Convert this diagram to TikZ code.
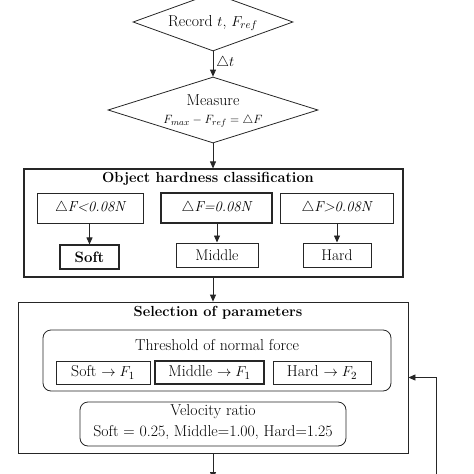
\documentclass[tikz,border=0pt]{standalone}
\usetikzlibrary{arrows.meta,shapes.geometric}
\begin{document}
\begin{tikzpicture}[x=1pt,y=-1pt,
  ln/.style={draw=black!85, line width=0.8pt},
  arr/.style={ln, -{Triangle[length=7pt,width=6pt]}},
  box/.style={ln, rectangle, inner sep=0pt},
  thickbox/.style={box, line width=1.3pt},
  rbox/.style={box, rounded corners=8pt},
  dia/.style={ln, diamond, inner sep=0pt},
  txt/.style={inner sep=0pt, font=\fontsize{15.8}{18}\selectfont},
  ttl/.style={inner sep=0pt, font=\fontsize{14.6}{17}\selectfont\bfseries},
  cnd/.style={inner sep=0pt, font=\fontsize{14.5}{17}\selectfont\itshape}
]
\useasboundingbox (0,0) rectangle (474,474);
% diamonds
\node[dia, minimum width=160pt, minimum height=58pt] (rec) at (213,22) {};
\node[txt] (rect) at (213,23) {Record $t$, $F_{ref}$};
\node[dia, minimum width=210pt, minimum height=66pt] (ms) at (213,110) {};
\node[txt] (mst1) at (213,100) {Measure};
\node[txt, font=\fontsize{13}{16}\selectfont] (mst2) at (213,121) {$F_{max}-F_{ref}=\triangle F$};
\draw[arr] (rec.south) -- node[txt, right=3pt, pos=0.45] (dt) {$\triangle t$} (ms.north);
% hardness classification
\node[box, line width=1.2pt, minimum width=379pt, minimum height=108pt] (hc) at (213.5,223) {};
\node[ttl] (hct) at (208,179) {Object hardness classification};
\node[box, minimum width=106pt, minimum height=30pt] (c1) at (90,208) {};
\node[thickbox, minimum width=111pt, minimum height=30pt] (c2) at (216.5,208) {};
\node[box, minimum width=113pt, minimum height=30pt] (c3) at (336.5,208) {};
\node[cnd] (c1t) at (c1) {$\triangle$F<0.08N};
\node[cnd] (c2t) at (c2) {$\triangle$F=0.08N};
\node[cnd] (c3t) at (c3) {$\triangle$F>0.08N};
\node[box, line width=1.1pt, minimum width=59pt, minimum height=24pt, font=\fontsize{15}{18}\selectfont\bfseries] (r1) at (89.5,257) {Soft};
\node[box, line width=1pt, minimum width=82pt, minimum height=24pt, font=\fontsize{15.5}{18}\selectfont] (r2) at (217,255) {Middle};
\node[box, line width=1pt, minimum width=68pt, minimum height=24pt, font=\fontsize{15.5}{18}\selectfont] (r3) at (337,255) {Hard};
\draw[arr] (c1.south -| r1.north) -- (r1.north);
\draw[arr] (c2.south -| r2.north) -- (r2.north);
\draw[arr] (c3.south -| r3.north) -- (r3.north);
\draw[arr] (ms.south) -- (ms.south |- hc.north);
% selection of parameters
\node[box, minimum width=390pt, minimum height=151pt] (sp) at (213,377.5) {};
\node[ttl] (spt) at (218,313) {Selection of parameters};
\draw[arr] (213,277) -- (sp.north);
\node[rbox, minimum width=348pt, minimum height=61pt] (th) at (217,360.5) {};
\node[txt] (tht) at (217,345) {Threshold of normal force};
\node[box, minimum width=94pt, minimum height=23pt] (t1) at (103,372.5) {};
\node[thickbox, minimum width=109pt, minimum height=23pt] (t2) at (209.5,372.5) {};
\node[box, minimum width=98pt, minimum height=23pt] (t3) at (322,372.5) {};
\node[txt] (t1t) at (t1) {Soft $\rightarrow F_1$};
\node[txt] (t2t) at (t2) {Middle $\rightarrow F_1$};
\node[txt] (t3t) at (t3) {Hard $\rightarrow F_2$};
\node[rbox, minimum width=266pt, minimum height=44pt] (vr) at (213,424) {};
\node[txt] (vrt1) at (213,412) {Velocity ratio};
\node[txt] (vrt2) at (213,432) {Soft = 0.25, Middle=1.00, Hard=1.25};
% outputs
\coordinate (out) at (213,479);
\draw[arr] (sp.south -| out) -- (out);
\coordinate (fb) at (436,480);
\draw[arr] (fb) |- (sp.east);
\end{tikzpicture}
\end{document}
